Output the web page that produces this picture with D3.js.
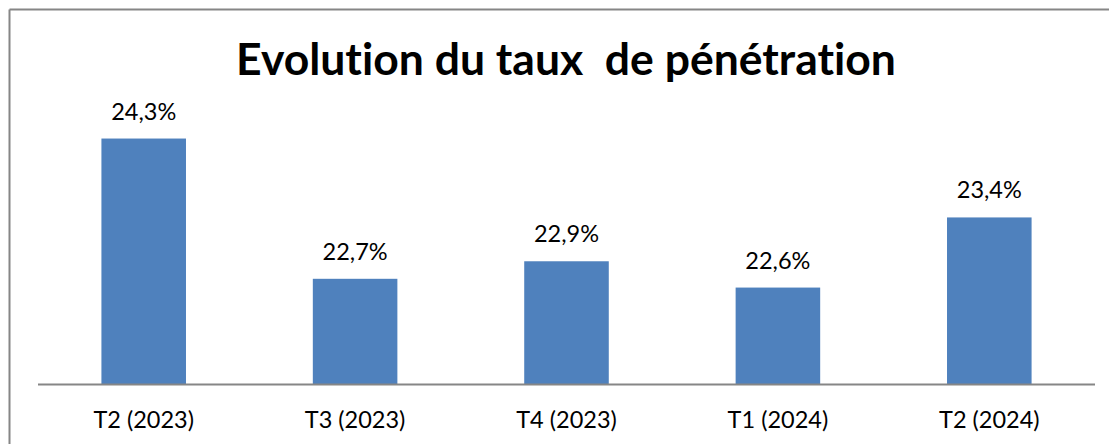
<!DOCTYPE html>
<html>
<head>
<meta charset="utf-8">
<script src="https://cdn.jsdelivr.net/npm/d3@7"></script>
<style>
  body { margin: 0; background: #fff; }
  text { font-family: Lato, "Open Sans", sans-serif; fill: #000; font-variant-ligatures: none; }
</style>
</head>
<body>
<svg></svg>
<script>
var categories = ["T2 (2023)", "T3 (2023)", "T4 (2023)", "T1 (2024)", "T2 (2024)"];
var values = [24.3, 22.7, 22.9, 22.6, 23.4];
var labels = ["24,3%", "22,7%", "22,9%", "22,6%", "23,4%"];
var title = "Evolution du taux  de pénétration";

var width = 1109;
var height = 444;

var svg = d3.select("svg")
            .attr("width", width)
            .attr("height", height);

// frame: only top and left edges show
svg.append("line")
   .attr("x1", 9.5).attr("x2", width)
   .attr("y1", 9.5).attr("y2", 9.5)
   .attr("stroke", "#868686").attr("stroke-width", 2);
svg.append("line")
   .attr("x1", 9.5).attr("x2", 9.5)
   .attr("y1", 9.5).attr("y2", height)
   .attr("stroke", "#868686").attr("stroke-width", 2);

var x = d3.scaleBand()
          .domain(categories)
          .range([38, 1095])
          .paddingInner(0.6)
          .paddingOuter(0.3);

var y = d3.scaleLinear()
          .domain([21.5, 24.5])
          .range([384, 121]);

var bars = svg.append("g").classed("bars", true);

bars.selectAll("rect")
  .data(values)
  .enter()
  .append("rect")
    .attr("x", (d, i) => x(categories[i]))
    .attr("y", d => y(d))
    .attr("width", x.bandwidth())
    .attr("height", d => y.range()[0] - y(d))
    .attr("fill", "#4f81bd");

bars.selectAll("text")
  .data(values)
  .enter()
  .append("text")
    .attr("x", (d, i) => x(categories[i]) + x.bandwidth() / 2)
    .attr("y", d => y(d) - 19)
    .attr("text-anchor", "middle")
    .style("font-size", "23.5px")
    .text((d, i) => labels[i]);

var xAxis = svg.append("g")
  .attr("transform", "translate(0,384)")
  .call(d3.axisBottom(x).tickSize(0).tickPadding(0));

xAxis.select(".domain")
  .attr("d", "M38,0.5H1095")
  .attr("stroke", "#868686")
  .attr("stroke-width", 2);

xAxis.selectAll(".tick text")
  .attr("y", 44)
  .attr("dy", null)
  .style("font-size", "23.5px")
  .style("font-family", "Lato, 'Open Sans', sans-serif")
  .attr("fill", "#000");

var t = svg.append("text")
  .attr("x", 566)
  .attr("y", 75)
  .attr("text-anchor", "middle")
  .style("font-size", "44px")
  .style("font-weight", "bold")
  .style("white-space", "pre")
  .attr("xml:space", "preserve")
  .text(title);

// squeeze the title to the width it has in the original
var w = t.node().getComputedTextLength();
t.style("font-size", (44 * 660 / w) + "px");
</script>
</body>
</html>
